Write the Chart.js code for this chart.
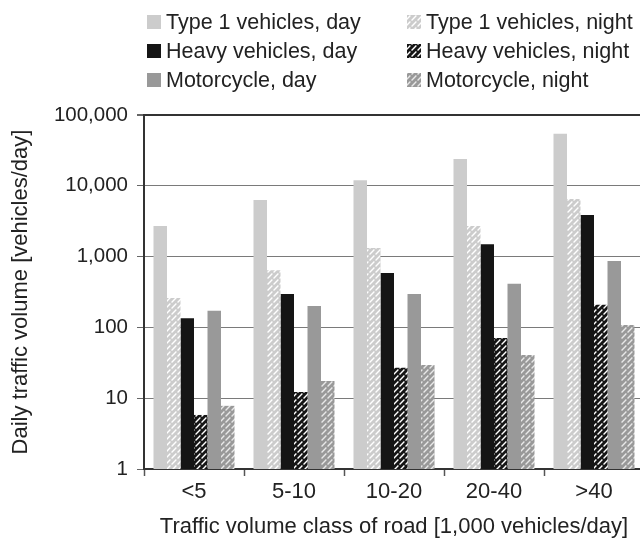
<!DOCTYPE html>
<html>
<head>
<meta charset="utf-8">
<script src="https://cdn.jsdelivr.net/npm/chart.js@4"></script>
<style>
  html, body { margin: 0; padding: 0; overflow: hidden; background: #fff; }
  #wrap { width: 644px; height: 543px; }
</style>
</head>
<body>
<div id="wrap"><canvas id="c" width="644" height="543"></canvas></div>
<script>
const categories = ["<5", "5-10", "10-20", "20-40", ">40"];
const type1Day   = [2700, 6300, 12000, 23900, 54500];
const type1Night = [260, 640, 1320, 2700, 6500];
const heavyDay   = [135, 297, 585, 1500, 3870];
const heavyNight = [5.8, 12.2, 27, 71, 209];
const motoDay    = [172, 200, 297, 414, 867];
const motoNight  = [7.8, 17.5, 29.4, 40.7, 108];
const yTicks = [1, 10, 100, 1000, 10000, 100000];

const FONT = "'Liberation Sans', Arial, Helvetica, sans-serif";
const TEXT = "#222";

// hatched fill for the night series: base colour with white dashed diagonals
function stripes(base, line) {
  const c = document.createElement("canvas");
  c.width = c.height = 6;
  const g = c.getContext("2d");
  g.fillStyle = base;
  g.fillRect(0, 0, 6, 6);
  g.strokeStyle = line;
  g.lineWidth = 1.4;
  g.setLineDash([3.4, 1.6]);
  g.beginPath(); g.moveTo(0, 6); g.lineTo(6, 0); g.stroke();
  g.setLineDash([]);
  g.beginPath(); g.moveTo(-1, 1); g.lineTo(1, -1); g.moveTo(5, 7); g.lineTo(7, 5); g.stroke();
  return g.createPattern(c, "repeat");
}

const gridLegend = {
  id: "gridLegend",
  afterDraw(chart) {
    const ctx = chart.ctx;
    const cols = [147, 407], rows = [22, 51, 80];
    ctx.save();
    ctx.font = `21.5px ${FONT}`;
    ctx.textBaseline = "middle";
    chart.data.datasets.forEach((ds, i) => {
      const x = cols[i % 2], y = rows[Math.floor(i / 2)];
      ctx.fillStyle = ds.backgroundColor;
      ctx.fillRect(x, y - 7, 14, 14);
      ctx.fillStyle = TEXT;
      ctx.fillText(ds.label, x + 19, y + 1);
    });
    ctx.restore();
  },
};

function bar(label, data, color) {
  return { label, data, backgroundColor: color, borderWidth: 0,
           barPercentage: 1, categoryPercentage: 0.81 };
}

new Chart(document.getElementById("c"), {
  type: "bar",
  data: {
    labels: categories,
    datasets: [
      bar("Type 1 vehicles, day", type1Day, "#cccccc"),
      bar("Type 1 vehicles, night", type1Night, stripes("#cccccc", "#ffffff")),
      bar("Heavy vehicles, day", heavyDay, "#151515"),
      bar("Heavy vehicles, night", heavyNight, stripes("#151515", "#ffffff")),
      bar("Motorcycle, day", motoDay, "#999999"),
      bar("Motorcycle, night", motoNight, stripes("#999999", "#e8e8e8")),
    ],
  },
  options: {
    responsive: false,
    animation: false,
    layout: { padding: { top: 115, left: 0, right: 0, bottom: 0 } },
    plugins: { legend: { display: false }, tooltip: { enabled: false } },
    scales: {
      x: {
        grid: { offset: true, drawOnChartArea: false, tickLength: 7, tickColor: "#555", tickWidth: 1.5 },
        border: { color: "#333", width: 2 },
        ticks: { color: TEXT, font: { family: FONT, size: 22 }, padding: 3 },
        title: { display: true, text: "Traffic volume class of road [1,000 vehicles/day]",
                 color: TEXT, font: { family: FONT, size: 22 }, padding: { top: 0, bottom: 3 } },
        afterFit: (s) => { s.height = 74; },
      },
      y: {
        type: "logarithmic",
        min: 1,
        max: 100000,
        afterBuildTicks: (s) => { s.ticks = yTicks.map(v => ({ value: v })); },
        ticks: { color: TEXT, font: { family: FONT, size: 20.5 }, padding: 9, autoSkip: false,
                 callback: (v) => Number(v).toLocaleString("en-US") },
        grid: {
          color: (c) => (c.tick && c.tick.value === 100000 ? "#333" : "#7a7a7a"),
          lineWidth: (c) => (c.tick && c.tick.value === 100000 ? 2 : 1),
          tickColor: "#666",
          tickLength: 7,
        },
        border: { color: "#333", width: 2 },
        title: { display: true, text: "Daily traffic volume [vehicles/day]",
                 color: TEXT, font: { family: FONT, size: 22 }, padding: { top: 8, bottom: 0 } },
        afterFit: (s) => { s.width = 144; },
      },
    },
  },
  plugins: [gridLegend],
});
</script>
</body>
</html>
